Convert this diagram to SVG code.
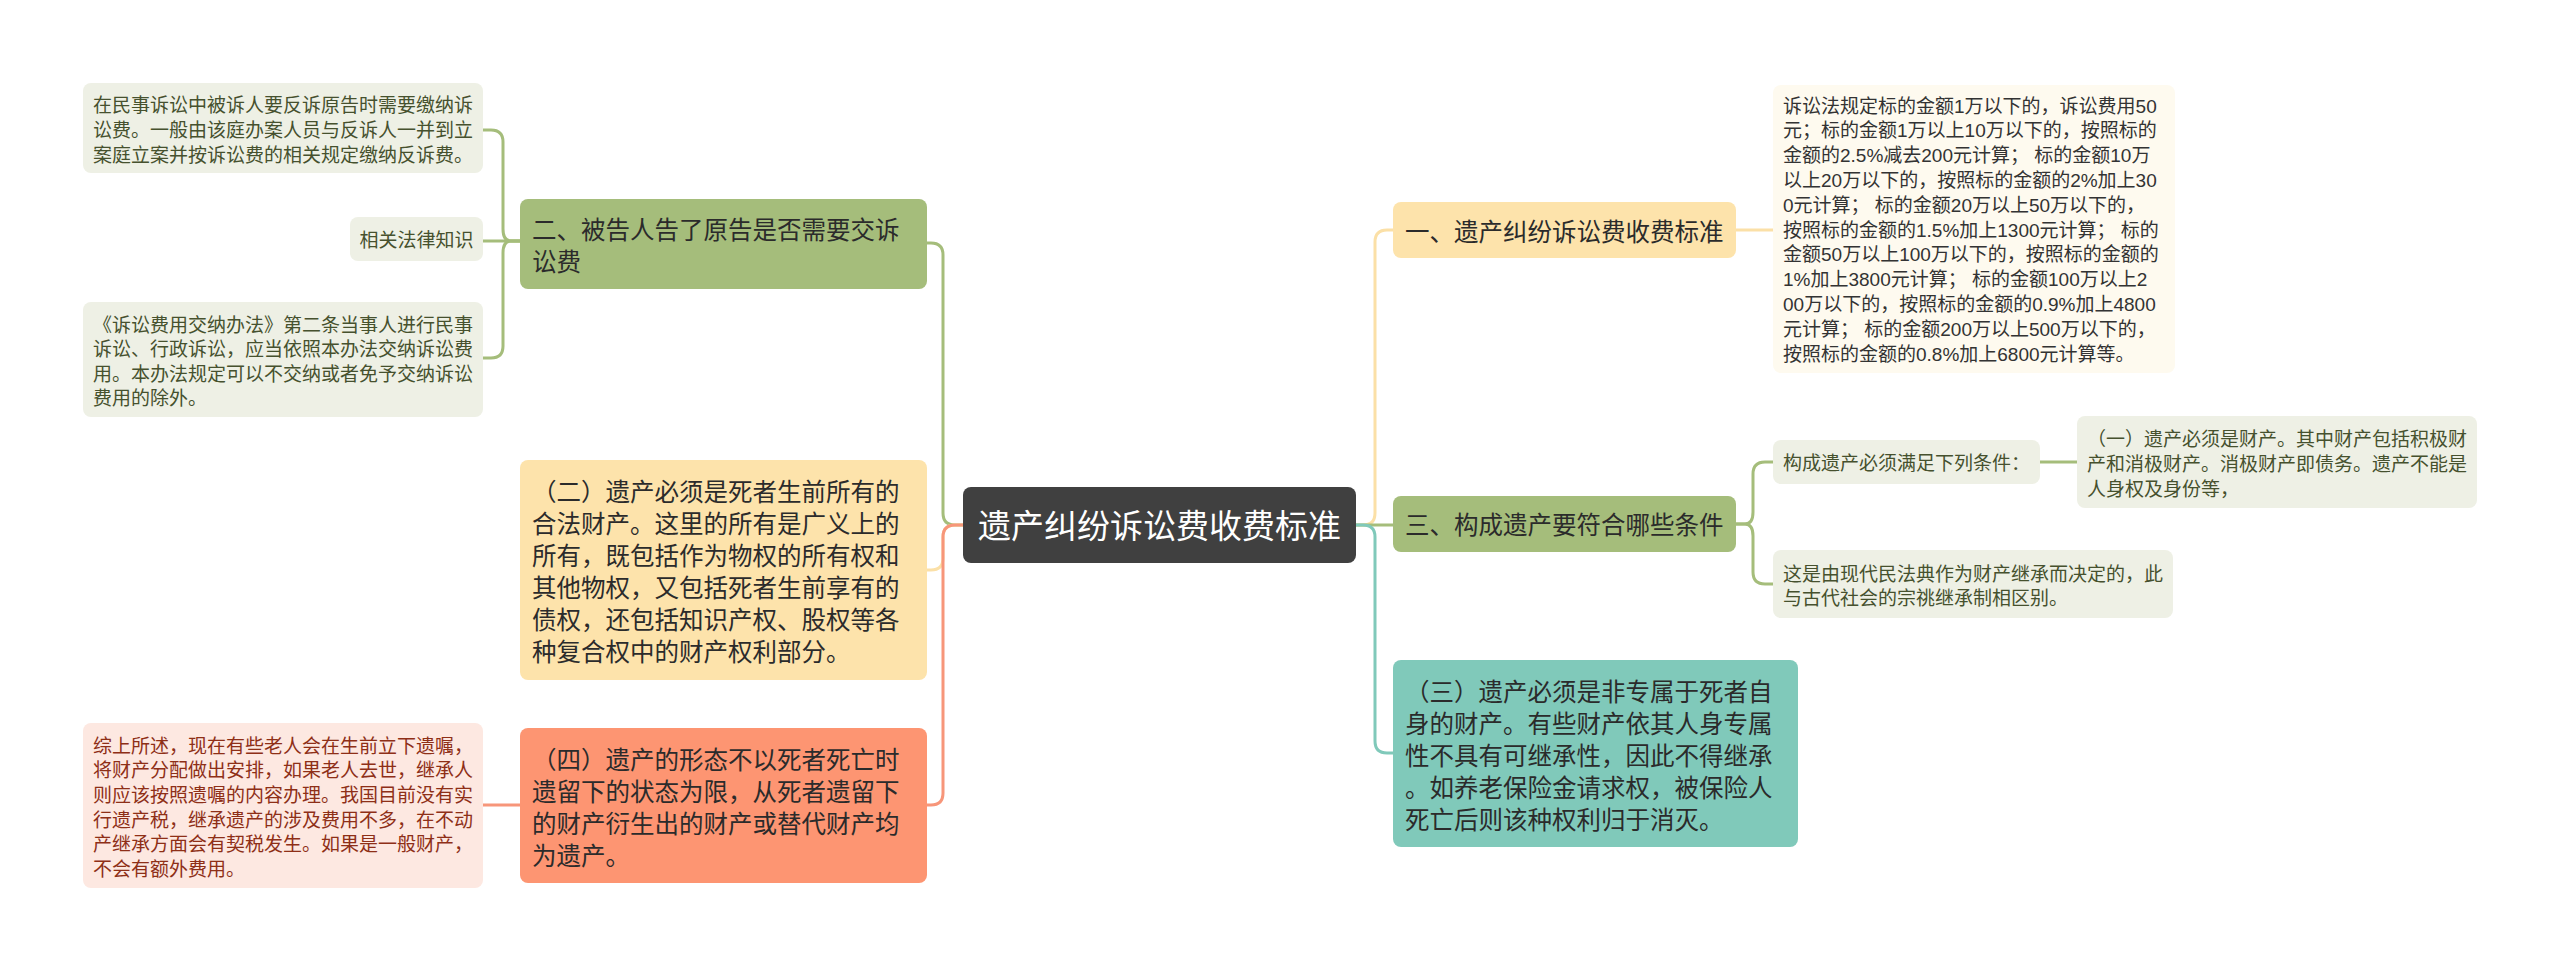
<svg xmlns="http://www.w3.org/2000/svg" width="2560" height="971" viewBox="0 0 2560 971">
<style>
text{font-family:"Liberation Sans","Noto Sans CJK SC",sans-serif;dominant-baseline:central;white-space:pre}
.c{fill:none;stroke-width:3;stroke-linecap:round}
.leaf{font-size:19px}
.lvl{font-size:24.5px;fill:#2b2b2b}
.gl{fill:#eef0e5}
.glt{fill:#46512e}
.cl{fill:#fefaef}
.clt{fill:#333333}
.pl{fill:#fde8e1}
.plt{fill:#8e2f17}
</style>
<rect width="2560" height="971" fill="#ffffff"/>
<g id="connectors">
<path class="c" stroke="#a5bd7b" d="M963,525 H955 Q943,525 943,513 V255 Q943,243 931,243 H927"/>
<path class="c" stroke="#fbe0a7" d="M963,525 H955 Q943,525 943,537 V558 Q943,570 931,570 H927"/>
<path class="c" stroke="#f7967a" d="M963,525 H955 Q943,525 943,537 V793 Q943,805 931,805 H927"/>
<path class="c" stroke="#a5bd7b" d="M520,241 H511 Q503,241 503,229 V142 Q503,130 491,130 H483"/>
<path class="c" stroke="#a5bd7b" d="M520,241 H511 Q503,241 503,253 V346 Q503,358 491,358 H483"/>
<path class="c" stroke="#a5bd7b" d="M520,241 H483"/>
<path class="c" stroke="#f7967a" d="M520,805 H483"/>
<path class="c" stroke="#fbe0a7" d="M1356,525 H1363 Q1375,525 1375,513 V242 Q1375,230 1387,230 H1393"/>
<path class="c" stroke="#a5bd7b" d="M1356,525 H1393"/>
<path class="c" stroke="#80c9ba" d="M1356,525 H1363 Q1375,525 1375,537 V741 Q1375,753 1387,753 H1393"/>
<path class="c" stroke="#fbe0a7" d="M1736,230 H1773"/>
<path class="c" stroke="#a5bd7b" d="M1736,524 H1745 Q1753,524 1753,512 V474 Q1753,462 1765,462 H1773"/>
<path class="c" stroke="#a5bd7b" d="M1736,524 H1745 Q1753,524 1753,536 V572 Q1753,584 1765,584 H1773"/>
<path class="c" stroke="#a5bd7b" d="M2040,462 H2077"/>
</g>
<g id="center">
<rect x="963" y="487" width="393" height="76" rx="8" fill="#404040"/>
<text x="1159.5" y="526" font-size="33" fill="#ffffff" text-anchor="middle">遗产纠纷诉讼费收费标准</text>
</g>
<g id="n-er">
<rect x="520" y="199" width="407" height="90" rx="8" fill="#a5bd7b"/>
<text class="lvl" x="532" y="230">二、被告人告了原告是否需要交诉</text>
<text class="lvl" x="532" y="262">讼费</text>
</g>
<g id="leaf-a">
<rect class="gl" x="83" y="83" width="400" height="90" rx="8"/>
<text class="leaf glt" x="93" y="105">在民事诉讼中被诉人要反诉原告时需要缴纳诉</text>
<text class="leaf glt" x="93" y="130">讼费。一般由该庭办案人员与反诉人一并到立</text>
<text class="leaf glt" x="93" y="155">案庭立案并按诉讼费的相关规定缴纳反诉费。</text>
</g>
<g id="leaf-b">
<rect class="gl" x="350" y="217" width="133" height="44" rx="8"/>
<text class="leaf glt" x="416.5" y="240" text-anchor="middle">相关法律知识</text>
</g>
<g id="leaf-c">
<rect class="gl" x="83" y="302" width="400" height="115" rx="8"/>
<text class="leaf glt" x="93" y="325">《诉讼费用交纳办法》第二条当事人进行民事</text>
<text class="leaf glt" x="93" y="349">诉讼、行政诉讼，应当依照本办法交纳诉讼费</text>
<text class="leaf glt" x="93" y="374">用。本办法规定可以不交纳或者免予交纳诉讼</text>
<text class="leaf glt" x="93" y="398">费用的除外。</text>
</g>
<g id="n-er2">
<rect x="520" y="460" width="407" height="220" rx="8" fill="#fde3ab"/>
<text class="lvl" x="532" y="492">（二）遗产必须是死者生前所有的</text>
<text class="lvl" x="532" y="524">合法财产。这里的所有是广义上的</text>
<text class="lvl" x="532" y="556">所有，既包括作为物权的所有权和</text>
<text class="lvl" x="532" y="588">其他物权，又包括死者生前享有的</text>
<text class="lvl" x="532" y="620">债权，还包括知识产权、股权等各</text>
<text class="lvl" x="532" y="652">种复合权中的财产权利部分。</text>
</g>
<g id="n-si">
<rect x="520" y="728" width="407" height="155" rx="8" fill="#fd9572"/>
<text class="lvl" x="532" y="760">（四）遗产的形态不以死者死亡时</text>
<text class="lvl" x="532" y="792">遗留下的状态为限，从死者遗留下</text>
<text class="lvl" x="532" y="824">的财产衍生出的财产或替代财产均</text>
<text class="lvl" x="532" y="856">为遗产。</text>
</g>
<g id="leaf-d">
<rect class="pl" x="83" y="723" width="400" height="165" rx="8"/>
<text class="leaf plt" x="93" y="746">综上所述，现在有些老人会在生前立下遗嘱，</text>
<text class="leaf plt" x="93" y="770.5">将财产分配做出安排，如果老人去世，继承人</text>
<text class="leaf plt" x="93" y="795">则应该按照遗嘱的内容办理。我国目前没有实</text>
<text class="leaf plt" x="93" y="820">行遗产税，继承遗产的涉及费用不多，在不动</text>
<text class="leaf plt" x="93" y="844.5">产继承方面会有契税发生。如果是一般财产，</text>
<text class="leaf plt" x="93" y="869">不会有额外费用。</text>
</g>
<g id="n-yi">
<rect x="1393" y="202" width="343" height="56" rx="8" fill="#fde3ab"/>
<text class="lvl" x="1405" y="232">一、遗产纠纷诉讼费收费标准</text>
</g>
<g id="leaf-e">
<rect class="cl" x="1773" y="85" width="402" height="288" rx="8"/>
<text class="leaf clt" x="1783" y="106">诉讼法规定标的金额1万以下的，诉讼费用50</text>
<text class="leaf clt" x="1783" y="130.8">元；标的金额1万以上10万以下的，按照标的</text>
<text class="leaf clt" x="1783" y="155.6">金额的2.5%减去200元计算； 标的金额10万</text>
<text class="leaf clt" x="1783" y="180.4">以上20万以下的，按照标的金额的2%加上30</text>
<text class="leaf clt" x="1783" y="205.2">0元计算； 标的金额20万以上50万以下的，</text>
<text class="leaf clt" x="1783" y="230">按照标的金额的1.5%加上1300元计算； 标的</text>
<text class="leaf clt" x="1783" y="254.8">金额50万以上100万以下的，按照标的金额的</text>
<text class="leaf clt" x="1783" y="279.6">1%加上3800元计算； 标的金额100万以上2</text>
<text class="leaf clt" x="1783" y="304.4">00万以下的，按照标的金额的0.9%加上4800</text>
<text class="leaf clt" x="1783" y="329.2">元计算； 标的金额200万以上500万以下的，</text>
<text class="leaf clt" x="1783" y="354">按照标的金额的0.8%加上6800元计算等。</text>
</g>
<g id="n-san">
<rect x="1393" y="496" width="343" height="56" rx="8" fill="#a5bd7b"/>
<text class="lvl" x="1405" y="525">三、构成遗产要符合哪些条件</text>
</g>
<g id="leaf-f">
<rect class="gl" x="1773" y="440" width="267" height="44" rx="8"/>
<text class="leaf glt" x="1783" y="463">构成遗产必须满足下列条件：</text>
</g>
<g id="leaf-g">
<rect class="gl" x="2077" y="416" width="400" height="92" rx="8"/>
<text class="leaf glt" x="2087" y="439">（一）遗产必须是财产。其中财产包括积极财</text>
<text class="leaf glt" x="2087" y="464">产和消极财产。消极财产即债务。遗产不能是</text>
<text class="leaf glt" x="2087" y="489">人身权及身份等，</text>
</g>
<g id="leaf-h">
<rect class="gl" x="1773" y="550" width="400" height="68" rx="8"/>
<text class="leaf glt" x="1783" y="574">这是由现代民法典作为财产继承而决定的，此</text>
<text class="leaf glt" x="1783" y="598">与古代社会的宗祧继承制相区别。</text>
</g>
<g id="n-san2">
<rect x="1393" y="660" width="405" height="187" rx="8" fill="#80c9ba"/>
<text class="lvl" x="1405" y="692">（三）遗产必须是非专属于死者自</text>
<text class="lvl" x="1405" y="724">身的财产。有些财产依其人身专属</text>
<text class="lvl" x="1405" y="756">性不具有可继承性，因此不得继承</text>
<text class="lvl" x="1405" y="788">。如养老保险金请求权，被保险人</text>
<text class="lvl" x="1405" y="820">死亡后则该种权利归于消灭。</text>
</g>
</svg>
